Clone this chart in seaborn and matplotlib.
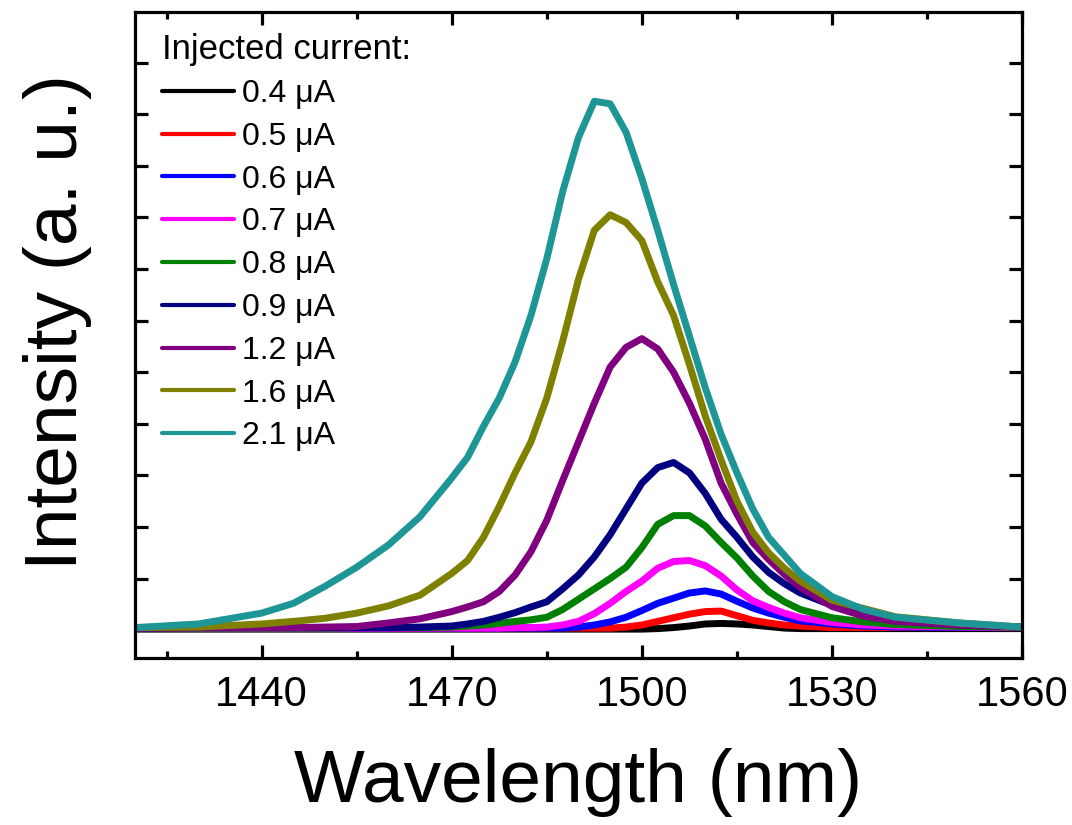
import matplotlib
matplotlib.use("Agg")
import matplotlib.pyplot as plt
import pandas as pd
import seaborn as sns
from matplotlib.ticker import FixedLocator, MultipleLocator, NullFormatter

# Emission spectra sampled on a shared wavelength grid (nm)
wavelength_nm = [1420, 1430, 1440, 1445, 1450, 1455, 1460, 1465, 1470,
                 1472.5, 1475, 1477.5, 1480, 1482.5, 1485, 1487.5, 1490,
                 1492.5, 1495, 1497.5, 1500, 1502.5, 1505, 1507.5, 1510,
                 1512.5, 1515, 1517.5, 1520, 1522.5, 1525, 1530, 1535,
                 1540, 1550, 1560]

currents = ["0.4 μA", "0.5 μA", "0.6 μA", "0.7 μA", "0.8 μA",
            "0.9 μA", "1.2 μA", "1.6 μA", "2.1 μA"]
colors = ["#000000", "#FF0000", "#0000FF", "#FF00FF", "#008000",
          "#000080", "#800080", "#808000", "#1F9696"]

i_0p4 = [0.02, 0.02, 0.02, 0.02, 0.02, 0.02, 0.02, 0.02, 0.02,
         0.02, 0.02, 0.02, 0.02, 0.02, 0.02, 0.02, 0.02,
         0.02, 0.02, 0.02, 0.02, 0.03, 0.05, 0.08, 0.12,
         0.13, 0.12, 0.10, 0.07, 0.04, 0.03, 0.03, 0.03,
         0.03, 0.03, 0.03]
i_0p5 = [0.04, 0.04, 0.04, 0.04, 0.04, 0.04, 0.04, 0.04, 0.04,
         0.04, 0.04, 0.04, 0.04, 0.04, 0.04, 0.04, 0.04,
         0.04, 0.04, 0.06, 0.10, 0.17, 0.24, 0.31, 0.36,
         0.37, 0.28, 0.19, 0.14, 0.10, 0.08, 0.05, 0.05,
         0.05, 0.05, 0.05]
i_0p6 = [0.04, 0.04, 0.04, 0.04, 0.04, 0.04, 0.04, 0.04, 0.04,
         0.04, 0.04, 0.04, 0.04, 0.04, 0.04, 0.04, 0.06,
         0.10, 0.16, 0.25, 0.38, 0.52, 0.62, 0.72, 0.76,
         0.70, 0.56, 0.43, 0.33, 0.25, 0.18, 0.12, 0.08,
         0.06, 0.05, 0.05]
i_0p7 = [0.04, 0.04, 0.04, 0.04, 0.04, 0.04, 0.04, 0.04, 0.04,
         0.04, 0.04, 0.04, 0.05, 0.05, 0.06, 0.10, 0.17,
         0.32, 0.52, 0.75, 0.95, 1.20, 1.33, 1.35, 1.25,
         1.05, 0.78, 0.57, 0.44, 0.33, 0.24, 0.15, 0.10,
         0.08, 0.06, 0.05]
i_0p8 = [0.04, 0.04, 0.04, 0.04, 0.04, 0.05, 0.05, 0.05, 0.06,
         0.08, 0.10, 0.13, 0.17, 0.20, 0.25, 0.40, 0.60,
         0.80, 1.00, 1.22, 1.60, 2.05, 2.22, 2.22, 2.02,
         1.70, 1.40, 1.05, 0.75, 0.55, 0.40, 0.24, 0.16,
         0.11, 0.07, 0.06]
i_0p9 = [0.04, 0.05, 0.05, 0.05, 0.05, 0.05, 0.05, 0.06, 0.08,
         0.12, 0.17, 0.25, 0.34, 0.45, 0.55, 0.80, 1.07,
         1.42, 1.85, 2.35, 2.85, 3.15, 3.25, 3.05, 2.65,
         2.15, 1.80, 1.42, 1.12, 0.90, 0.72, 0.48, 0.33,
         0.20, 0.10, 0.06]
i_1p2 = [0.04, 0.05, 0.05, 0.05, 0.06, 0.07, 0.14, 0.22, 0.36,
         0.45, 0.55, 0.75, 1.07, 1.52, 2.13, 2.90, 3.65,
         4.40, 5.10, 5.48, 5.65, 5.45, 5.00, 4.40, 3.70,
         2.85, 2.25, 1.70, 1.37, 1.08, 0.83, 0.46, 0.27,
         0.17, 0.10, 0.06]
i_1p6 = [0.05, 0.06, 0.12, 0.17, 0.23, 0.33, 0.47, 0.68, 1.10,
         1.35, 1.80, 2.40, 3.05, 3.65, 4.50, 5.60, 6.80,
         7.75, 8.05, 7.90, 7.55, 6.75, 6.10, 5.15, 4.15,
         3.30, 2.50, 1.90, 1.50, 1.20, 0.95, 0.58, 0.42,
         0.26, 0.14, 0.06]
i_2p1 = [0.05, 0.12, 0.33, 0.52, 0.85, 1.22, 1.65, 2.20, 2.95,
         3.35, 3.95, 4.50, 5.20, 6.10, 7.20, 8.50, 9.55,
         10.25, 10.20, 9.65, 8.75, 7.75, 6.70, 5.70, 4.70,
         3.80, 3.05, 2.35, 1.80, 1.45, 1.10, 0.65, 0.40,
         0.25, 0.14, 0.06]

series = [i_0p4, i_0p5, i_0p6, i_0p7, i_0p8, i_0p9, i_1p2, i_1p6, i_2p1]

frames = []
for label, values in zip(currents, series):
    frames.append(pd.DataFrame({"wavelength": wavelength_nm,
                                "intensity": values,
                                "current": label}))
spectra = pd.concat(frames, ignore_index=True)

sns.set_theme(style="ticks")
plt.rcParams["font.family"] = ["Liberation Sans", "DejaVu Sans"]
plt.rcParams.update({
    "text.color": "black",
    "axes.labelcolor": "black",
    "xtick.color": "black",
    "ytick.color": "black",
    "axes.edgecolor": "black",
    "axes.linewidth": 2.3,
})

fig = plt.figure(figsize=(10.72, 8.25), dpi=100)
ax = fig.add_axes([0.1259, 0.2024, 0.8275, 0.7831])

sns.lineplot(data=spectra, x="wavelength", y="intensity", hue="current",
             hue_order=currents, palette=colors, estimator=None, sort=False,
             linewidth=5.0, ax=ax)

ax.set_xlim(1420, 1560)
ax.set_ylim(-0.54, 11.98)

ax.xaxis.set_major_locator(MultipleLocator(30))
ax.xaxis.set_minor_locator(FixedLocator([1425, 1455, 1485, 1515, 1545]))
ax.yaxis.set_major_locator(FixedLocator(list(range(1, 12))))
ax.yaxis.set_major_formatter(NullFormatter())

ax.tick_params(axis="x", which="major", direction="in", length=9.5,
               width=2.3, top=True, labelsize=30, pad=12)
ax.tick_params(axis="x", which="minor", direction="in", length=5,
               width=2.3, top=True)
ax.tick_params(axis="y", which="major", direction="in", length=9.5,
               width=2.3, left=True, right=True)
for spine in ax.spines.values():
    spine.set_linewidth(2.3)

ax.set_xlabel("Wavelength (nm)", fontsize=54, labelpad=24)
ax.set_ylabel("Intensity (a. u.)", fontsize=54)
ax.yaxis.set_label_coords(-0.048, 0.52)

sns.move_legend(ax, "upper left", bbox_to_anchor=(0.03, 0.967),
                title="Injected current:", frameon=False, fontsize=23,
                title_fontsize=25, alignment="left", handlelength=2.28,
                handletextpad=0.25, labelspacing=0.40, borderpad=0.0,
                borderaxespad=0.0)
for handle in ax.get_legend().legend_handles:
    handle.set_linewidth(3)

fig.savefig("out.png", dpi=100)
